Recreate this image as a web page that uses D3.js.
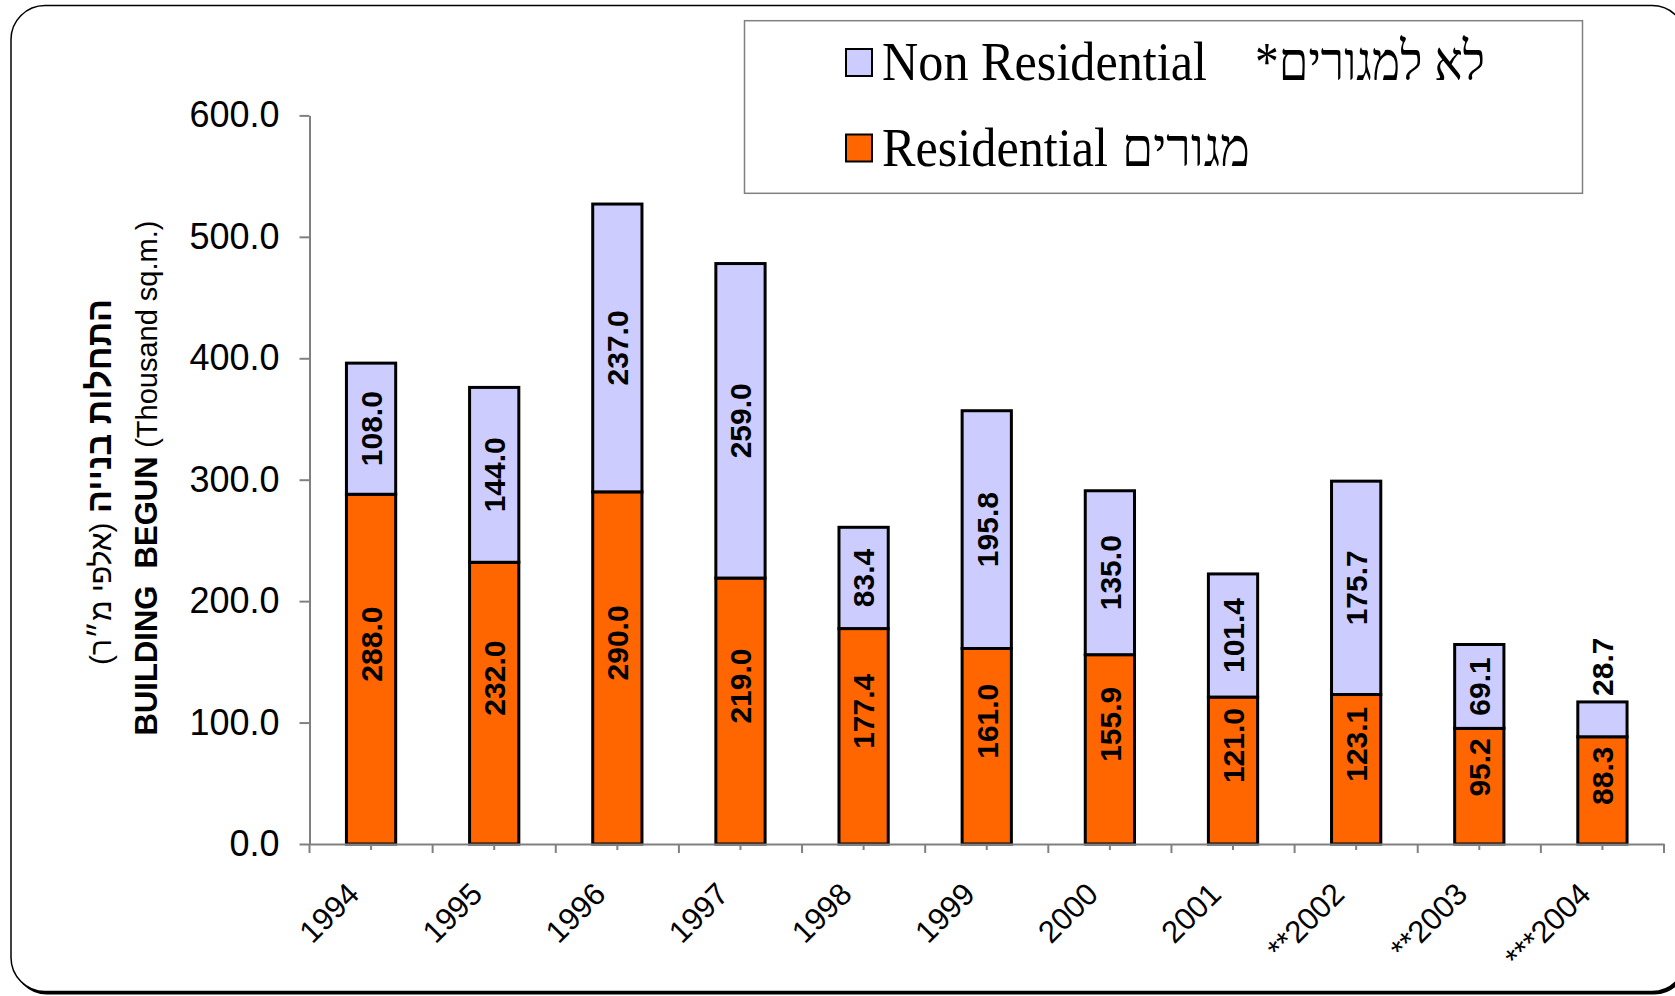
<!DOCTYPE html>
<html>
<head>
<meta charset="utf-8">
<script src="https://cdn.jsdelivr.net/npm/d3@7"></script>
<style>
  body { margin: 0; background: #fff; }
  svg { display: block; }
</style>
</head>
<body>
<svg id="chart" width="1675" height="996"></svg>
<script>
// data
var years = ["1994", "1995", "1996", "1997", "1998", "1999", "2000", "2001", "**2002", "**2003", "***2004"];
var residential = [288.0, 232.0, 290.0, 219.0, 177.4, 161.0, 155.9, 121.0, 123.1, 95.2, 88.3];
var nonResidential = [108.0, 144.0, 237.0, 259.0, 83.4, 195.8, 135.0, 101.4, 175.7, 69.1, 28.7];
var yTicks = [0, 100, 200, 300, 400, 500, 600];

var RES_COL = "#FF6600", NON_COL = "#CCCCFF";
var sans = "'Liberation Sans', Arial, sans-serif";
var serif = "'Liberation Serif', 'Times New Roman', serif";

var svg = d3.select("#chart");

// rounded frame with shadow
svg.append("rect")
  .attr("x", 13).attr("y", 8.5).attr("width", 1675).attr("height", 986)
  .attr("rx", 34).attr("fill", "#000");
svg.append("rect")
  .attr("x", 11).attr("y", 5.5).attr("width", 1675).attr("height", 986)
  .attr("rx", 34).attr("fill", "#fff").attr("stroke", "#000").attr("stroke-width", 1.5);

// scales
var x0 = 309.5, x1 = 1664, yBase = 844, yTop = 115.4;
var x = d3.scaleBand().domain(years).range([x0, x1]).padding(0);
var y = d3.scaleLinear().domain([0, 600]).range([yBase, yTop]);
var barW = x.bandwidth() * 0.4;

// y axis
var yAxis = svg.append("g")
  .attr("transform", "translate(" + x0 + ",0)")
  .call(d3.axisLeft(y).tickValues(yTicks).tickFormat(d3.format(".1f")).tickSize(10).tickSizeOuter(0).tickPadding(20));
yAxis.select(".domain").attr("stroke", "#808080").attr("stroke-width", 2);
yAxis.selectAll(".tick line").attr("stroke", "#808080").attr("stroke-width", 2);
yAxis.selectAll(".tick text")
  .attr("font-family", sans).attr("font-size", 36).attr("fill", "#000");
// y axis continues a little under the x axis
svg.append("line")
  .attr("x1", x0).attr("x2", x0).attr("y1", yBase).attr("y2", yBase + 9)
  .attr("stroke", "#808080").attr("stroke-width", 2);

// stacked bars
var rows = years.map(function(d, i) {
  return {year: d, res: residential[i], non: nonResidential[i]};
});

var g = svg.append("g");
rows.forEach(function(d) {
  var bx = x(d.year) + (x.bandwidth() - barW) / 2;
  g.append("rect")
    .attr("x", bx).attr("y", y(d.res))
    .attr("width", barW).attr("height", y(0) - y(d.res))
    .attr("fill", RES_COL).attr("stroke", "#000").attr("stroke-width", 3);
  g.append("rect")
    .attr("x", bx).attr("y", y(d.res + d.non))
    .attr("width", barW).attr("height", y(d.res) - y(d.res + d.non))
    .attr("fill", NON_COL).attr("stroke", "#000").attr("stroke-width", 3);
});

// x axis (drawn after bars so it sits on top)
var xAxis = svg.append("g")
  .attr("transform", "translate(0," + yBase + ")")
  .call(d3.axisBottom(x).tickSize(6).tickSizeOuter(0).tickFormat(""));
xAxis.select(".domain").attr("stroke", "#808080").attr("stroke-width", 2);
xAxis.selectAll(".tick line").attr("stroke", "#808080").attr("stroke-width", 2);
// category boundary ticks
years.forEach(function(d) {
  var bx = x(d) + x.bandwidth();
  xAxis.append("line")
    .attr("x1", bx).attr("x2", bx).attr("y1", 0).attr("y2", 9)
    .attr("stroke", "#808080").attr("stroke-width", 2);
});
// rotated year labels
years.forEach(function(d) {
  var cx = x(d) + x.bandwidth() / 2 - 10;
  svg.append("text")
    .attr("transform", "translate(" + cx + "," + (yBase + 52) + ") rotate(-45)")
    .attr("text-anchor", "end")
    .attr("font-family", sans).attr("font-size", 31).attr("fill", "#000")
    .text(d);
});

// value labels
var fmt = d3.format(".1f");
function valueLabel(cx, lo, hi, v, nudge) {
  var top = y(hi), bot = y(lo);
  var len = fmt(v).length * 15.5;
  var t = g.append("text")
    .attr("font-family", sans).attr("font-size", 30).attr("font-weight", "bold")
    .attr("fill", "#000").attr("dy", "0.36em")
    .text(fmt(v));
  if (bot - top < len + 8) {
    t.attr("transform", "translate(" + cx + "," + (top - 6) + ") rotate(-90)")
      .attr("text-anchor", "start");
  } else {
    // keep the label inside its segment
    var my = Math.max((top + bot) / 2 + nudge, top + len / 2 + 8);
    t.attr("transform", "translate(" + cx + "," + my + ") rotate(-90)")
      .attr("text-anchor", "middle");
  }
}
rows.forEach(function(d) {
  var cx = x(d.year) + x.bandwidth() / 2;
  valueLabel(cx, 0, d.res, d.res, -25);
  valueLabel(cx, d.res, d.res + d.non, d.non, 0);
});

// y axis title, two rotated lines
var t1 = svg.append("text")
  .attr("transform", "translate(111,482) rotate(-90)")
  .attr("text-anchor", "middle")
  .attr("font-family", sans).attr("fill", "#000");
t1.append("tspan").attr("font-size", 34).attr("font-weight", "bold").text("התחלות בנייה ");
t1.append("tspan").attr("font-size", 30).text("(אלפי מ״ר)");

var t2 = svg.append("text")
  .attr("transform", "translate(157,478) rotate(-90)")
  .attr("text-anchor", "middle")
  .attr("font-family", sans).attr("fill", "#000");
t2.append("tspan").attr("font-size", 31).attr("font-weight", "bold").text("BUILDING\u00A0 BEGUN ");
t2.append("tspan").attr("font-size", 29).text("(Thousand sq.m.)");

// legend
var leg = svg.append("g");
leg.append("rect")
  .attr("x", 744.5).attr("y", 20.7).attr("width", 838).attr("height", 172.6)
  .attr("fill", "#fff").attr("stroke", "#808080").attr("stroke-width", 1.5);
var legendItems = [
  {col: NON_COL, en: "Non Residential", he: "*לא למגורים", heEnd: 1485, heLen: 230, enLen: 325, base: 80},
  {col: RES_COL, en: "Residential", he: "מגורים", heEnd: 1250, heLen: 128, enLen: 226, base: 165.5}
];
legendItems.forEach(function(it) {
  leg.append("rect")
    .attr("x", 846).attr("y", it.base - 31).attr("width", 26).attr("height", 27)
    .attr("fill", it.col).attr("stroke", "#000").attr("stroke-width", 2);
  leg.append("text")
    .attr("x", 882).attr("y", it.base)
    .attr("font-family", serif).attr("font-size", 54).attr("fill", "#000")
    .attr("textLength", it.enLen).attr("lengthAdjust", "spacingAndGlyphs")
    .text(it.en);
  leg.append("text")
    .attr("x", it.heEnd - it.heLen).attr("y", it.base)
    .attr("font-family", serif).attr("font-size", 54).attr("fill", "#000")
    .attr("textLength", it.heLen).attr("lengthAdjust", "spacingAndGlyphs")
    .text(it.he);
});
</script>
</body>
</html>
